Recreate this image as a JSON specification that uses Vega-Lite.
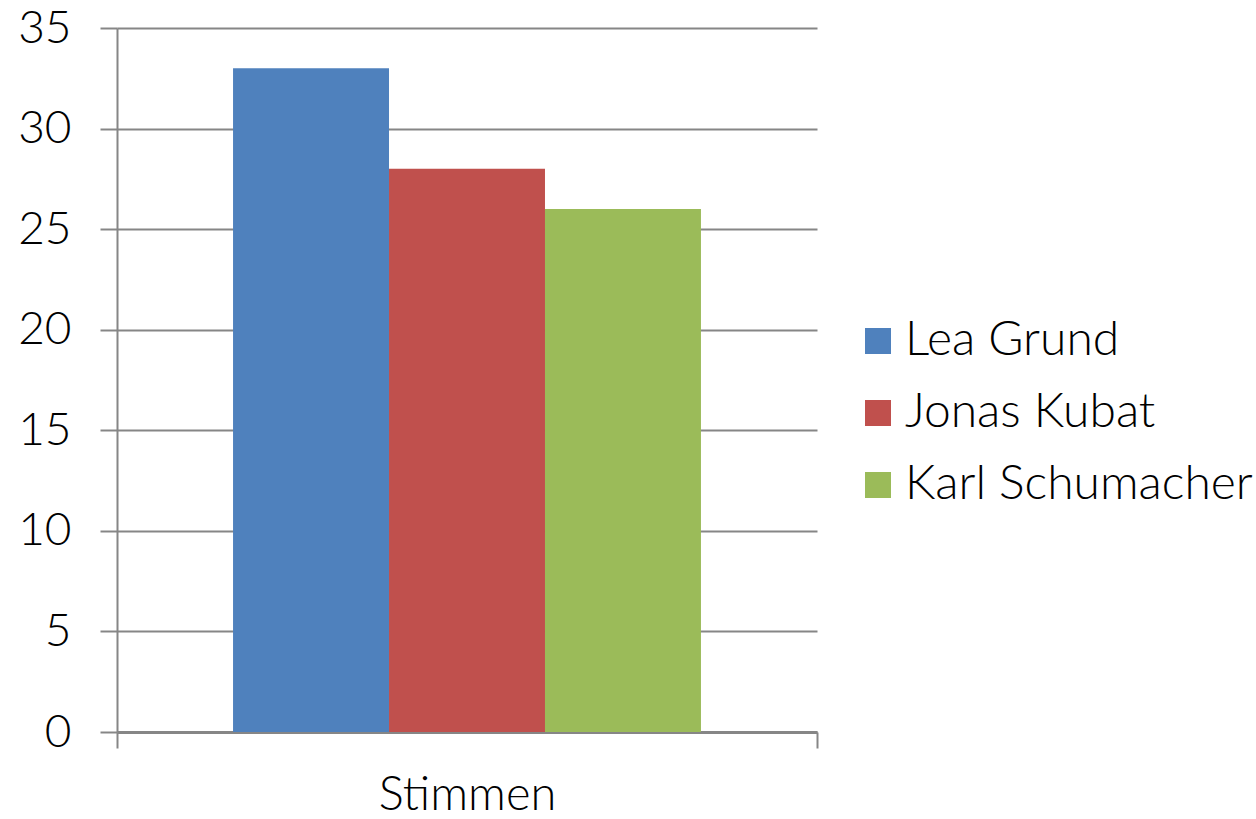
{
  "$schema": "https://vega.github.io/schema/vega-lite/v6.json",
  "width": 700,
  "height": 704,
  "autosize": "none",
  "padding": {"left": 117, "top": 28, "right": 439, "bottom": 87},
  "background": "white",
  "config": {
    "font": "Lato",
    "view": {"stroke": null}
  },
  "data": {
    "values": [
      {"kategorie": "Stimmen", "name": "Lea Grund", "stimmen": 33},
      {"kategorie": "Stimmen", "name": "Jonas Kubat", "stimmen": 28},
      {"kategorie": "Stimmen", "name": "Karl Schumacher", "stimmen": 26}
    ]
  },
  "mark": {"type": "bar"},
  "encoding": {
    "x": {
      "field": "kategorie",
      "type": "nominal",
      "scale": {"paddingInner": 0, "paddingOuter": 0},
      "axis": {
        "title": null,
        "labelAngle": 0,
        "labelFont": "Lato",
        "labelFontWeight": 300,
        "labelFontSize": 47,
        "labelColor": "#000000",
        "labelPadding": 24,
        "domainColor": "#868686",
        "domainWidth": 3,
        "tickBand": "extent",
        "tickColor": "#868686",
        "tickWidth": 2,
        "tickSize": 16,
        "grid": false
      }
    },
    "xOffset": {
      "field": "name",
      "type": "nominal",
      "sort": ["Lea Grund", "Jonas Kubat", "Karl Schumacher"],
      "scale": {"paddingInner": 0, "paddingOuter": 0.744}
    },
    "y": {
      "field": "stimmen",
      "type": "quantitative",
      "scale": {"domain": [0, 35], "nice": false},
      "axis": {
        "title": null,
        "values": [0, 5, 10, 15, 20, 25, 30, 35],
        "labelFont": "Lato",
        "labelFontWeight": 300,
        "labelFontSize": 46,
        "labelColor": "#000000",
        "labelPadding": 29,
        "domainColor": "#868686",
        "domainWidth": 2,
        "tickColor": "#868686",
        "tickWidth": 2,
        "tickSize": 17,
        "grid": true,
        "gridColor": "#868686",
        "gridWidth": 2
      }
    },
    "color": {
      "field": "name",
      "type": "nominal",
      "sort": ["Lea Grund", "Jonas Kubat", "Karl Schumacher"],
      "scale": {
        "domain": ["Lea Grund", "Jonas Kubat", "Karl Schumacher"],
        "range": ["#4F81BD", "#C0504D", "#9BBB59"]
      },
      "legend": {
        "title": null,
        "orient": "none",
        "legendX": 737,
        "legendY": 289,
        "symbolType": "square",
        "symbolSize": 676,
        "symbolStrokeWidth": 0,
        "symbolOpacity": 1,
        "labelFont": "Lato",
        "labelFontWeight": 300,
        "labelFontSize": 48,
        "labelColor": "#000000",
        "labelOffset": 3,
        "labelLimit": 500,
        "rowPadding": 24
      }
    }
  }
}
